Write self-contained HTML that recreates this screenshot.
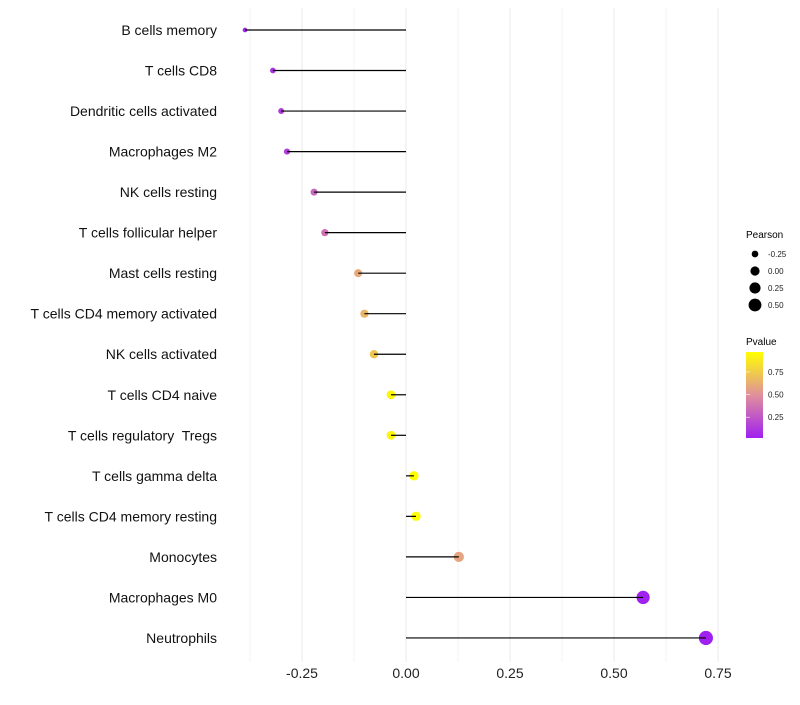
<!DOCTYPE html>
<html><head><meta charset="utf-8"><style>
body{margin:0;background:#fff;font-family:"Liberation Sans",sans-serif}
svg text{font-family:"Liberation Sans",sans-serif;white-space:pre}
</style></head><body>
<svg id="c" width="800" height="700">
<defs><linearGradient id="pg" x1="0" y1="1" x2="0" y2="0">
<stop offset="0" stop-color="#a020f0"/><stop offset="0.5" stop-color="#e0909c"/><stop offset="1" stop-color="#ffff00"/>
</linearGradient></defs>
<g id="grid"></g><g id="dots"></g><g id="marks"></g><g id="labels"></g>
<g>
<text x="746" y="238" font-size="10">Pearson</text>
<g id="sizeleg"></g>
<text x="746" y="345" font-size="10">Pvalue</text>
<rect x="746" y="352" width="17" height="86" fill="url(#pg)"/>
<g id="cleg"></g>
</g>
</svg>
<script>
const categories=["B cells memory","T cells CD8","Dendritic cells activated","Macrophages M2","NK cells resting","T cells follicular helper","Mast cells resting","T cells CD4 memory activated","NK cells activated","T cells CD4 naive","T cells regulatory  Tregs","T cells gamma delta","T cells CD4 memory resting","Monocytes","Macrophages M0","Neutrophils"];
const pearson=[-0.387,-0.32,-0.30,-0.286,-0.221,-0.195,-0.115,-0.10,-0.077,-0.036,-0.036,0.019,0.024,0.127,0.57,0.721];
const pvalue=[0.05,0.1,0.12,0.14,0.32,0.36,0.6,0.65,0.72,0.93,0.93,0.97,0.96,0.58,0.03,0.02];
const xTicks=[-0.25,0,0.25,0.5,0.75];
const xTickLabels=["-0.25","0.00","0.25","0.50","0.75"];
const sizeLegend=[-0.25,0,0.25,0.5];
const sizeLegendLabels=["-0.25","0.00","0.25","0.50"];
const colorLegend=[0.25,0.5,0.75];
const colorLegendLabels=["0.25","0.50","0.75"];
const NS="http://www.w3.org/2000/svg";
const xs=v=>406+v*416;
const ys=i=>30+i*40.53;
const rs=v=>Math.sqrt(Math.max(4.5,11+40*(v+0.25)));
function lerp(a,b,t){return a.map((x,i)=>Math.round(x+(b[i]-x)*t));}
function col(p){const s=[[160,32,240],[224,144,156],[255,255,0]];const t=Math.min(1,Math.max(0,(p-0.02)/0.95));
const c=t<0.5?lerp(s[0],s[1],t*2):lerp(s[1],s[2],(t-0.5)*2);return `rgb(${c})`;}
function mk(tag,at,parent){const e=document.createElementNS(NS,tag);for(const k in at)e.setAttribute(k,at[k]);parent.appendChild(e);return e;}
const grid=document.getElementById('grid'),marks=document.getElementById('marks'),dots=document.getElementById('dots'),labels=document.getElementById('labels');
for(let k=-3;k<=6;k++){const v=k*0.125;const g=mk('line',{x1:xs(v),x2:xs(v),y1:8,y2:662,stroke:'#ebebeb','stroke-width':k%2===0?1.1:0.6},grid);

}
xTicks.forEach((v,i)=>{const t=mk('text',{x:xs(v),y:678,'font-size':14,'text-anchor':'middle',fill:'#222'},labels);t.textContent=xTickLabels[i];

});
categories.forEach((c,i)=>{const y=ys(i);
const t=mk('text',{x:217,y:y+5,'font-size':14,'text-anchor':'end',fill:'#111'},labels);t.textContent=c;


const l=mk('line',{x1:xs(0),x2:xs(pearson[i]),y1:y,y2:y,stroke:'#000','stroke-width':1.2},marks);


const d=mk('circle',{cx:xs(pearson[i]),cy:y,r:rs(pearson[i]),fill:col(pvalue[i])},dots);

});
const sl=document.getElementById('sizeleg');
sizeLegend.forEach((v,i)=>{const y=254+i*17;
const c=mk('circle',{cx:755,cy:y,r:rs(v),fill:'#000'},sl);


const t=mk('text',{x:768,y:y+3,'font-size':8,fill:'#222'},sl);t.textContent=sizeLegendLabels[i];

});
const cl=document.getElementById('cleg');
colorLegend.forEach((p,i)=>{const y=438-(p-0.02)/0.95*86;
const k=mk('line',{x1:746,x2:750,y1:y,y2:y,stroke:'#fff','stroke-width':0.6},cl);


const t=mk('text',{x:768,y:y+3,'font-size':8,fill:'#222'},cl);t.textContent=colorLegendLabels[i];

});
</script>
</body></html>
